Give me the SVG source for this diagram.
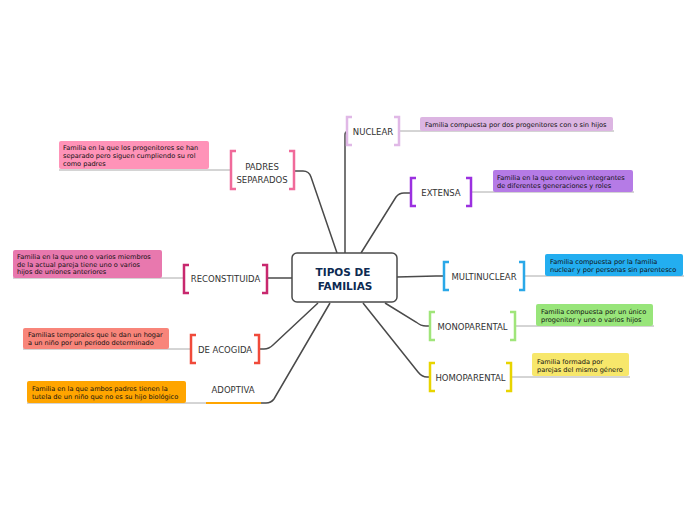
<svg xmlns="http://www.w3.org/2000/svg" width="696" height="520" viewBox="0 0 696 520">
<style>
.lbl{font-family:"DejaVu Sans",Verdana,sans-serif;font-size:8.5px;fill:#333;text-anchor:middle}
.nt{font-family:"DejaVu Sans",Verdana,sans-serif;font-size:6.6px;fill:#111}
.ctr{font-family:"DejaVu Sans",Verdana,sans-serif;font-size:10.5px;font-weight:bold;fill:#0d2a52;text-anchor:middle}
.con{fill:none;stroke:#4a4a4a;stroke-width:1.5}
.ul{fill:none;stroke:#aaaaaa;stroke-width:1}
.br{fill:none;stroke-width:2.5}
</style>
<rect width="696" height="520" fill="#ffffff"/>
<g id="connectors">
<path class="con" d="M345 253 V135 Q345 132 347 131.5"/>
<path class="con" d="M361 253 L396 197 Q399 193 404 193 H411"/>
<path class="con" d="M397 277 L436 276 H444"/>
<path class="con" d="M385 303 L416 322 Q421 326 426 326 H430"/>
<path class="con" d="M363 303 L418 372 Q422 377 427 377 H430"/>
<path class="con" d="M337 253 L311 177 Q309 171 303 171 H295"/>
<path class="con" d="M292 278 H267"/>
<path class="con" d="M318 303 L273 345 Q269 349 264 349 H259"/>
<path class="con" d="M330 303 L274 399 Q271 403 266 403 H261"/>
</g>
<g id="center">
<rect x="292" y="253" width="105" height="49" rx="5" fill="#ffffff" stroke="#4a4a4a" stroke-width="1.5"/>
<text class="ctr" x="343" y="276">TIPOS DE</text>
<text class="ctr" x="345" y="290">FAMILIAS</text>
</g>
<g id="nuclear">
<path class="ul" d="M399 131 H614"/>
<path class="br" stroke="#e0b8e6" d="M352 117 H347 V145 H352 M394 117 H399 V145 H394"/>
<text class="lbl" x="373" y="135">NUCLEAR</text>
<rect x="420" y="117" width="193" height="14" rx="2" fill="#dcb5e2"/>
<text class="nt" x="425" y="126.5">Familia compuesta por dos progenitores con o sin hijos</text>
</g>
<g id="extensa">
<path class="ul" d="M471 192 H634"/>
<path class="br" stroke="#9b30e0" d="M416 178 H411 V206 H416 M466 178 H471 V206 H466"/>
<text class="lbl" x="441" y="196">EXTENSA</text>
<rect x="493" y="170" width="140" height="22" rx="2" fill="#b57be6"/>
<text class="nt" x="497" y="179.5">Familia en la que conviven integrantes</text>
<text class="nt" x="497" y="187.5">de diferentes generaciones y roles</text>
</g>
<g id="multinuclear">
<path class="ul" d="M524 276 H684"/>
<path class="br" stroke="#2aa8e8" d="M449 262 H444 V290 H449 M519 262 H524 V290 H519"/>
<text class="lbl" x="484" y="280">MULTINUCLEAR</text>
<rect x="545" y="254" width="138" height="22" rx="2" fill="#23aef0"/>
<text class="nt" x="550" y="263.5">Familia compuesta por la familia</text>
<text class="nt" x="550" y="271.5">nuclear y por personas sin parentesco</text>
</g>
<g id="monoparental">
<path class="ul" d="M515 326 H654"/>
<path class="br" stroke="#a0e57a" d="M435 312 H430 V340 H435 M510 312 H515 V340 H510"/>
<text class="lbl" x="472.5" y="330">MONOPARENTAL</text>
<rect x="536" y="304" width="117" height="22" rx="2" fill="#98e57a"/>
<text class="nt" x="541" y="314">Familia compuesta por un único</text>
<text class="nt" x="541" y="322">progenitor y uno o varios hijos</text>
</g>
<g id="homoparental">
<path class="ul" d="M511 377 H630"/>
<path class="br" stroke="#e8d400" d="M435 363 H430 V391 H435 M506 363 H511 V391 H506"/>
<text class="lbl" x="470.5" y="381">HOMOPARENTAL</text>
<rect x="532" y="353" width="97" height="23" rx="2" fill="#f7e76b"/>
<text class="nt" x="537" y="363.5">Familia formada por</text>
<text class="nt" x="537" y="371.5">parejas del mismo género</text>
</g>
<g id="padres-separados">
<path class="ul" d="M59 170 H231"/>
<path class="br" stroke="#f06a9a" d="M236 151 H231 V189 H236 M289 151 H294 V189 H289"/>
<text class="lbl" x="262" y="170">PADRES</text>
<text class="lbl" x="262" y="183">SEPARADOS</text>
<rect x="59" y="141" width="150" height="28" rx="2" fill="#ff93b8"/>
<text class="nt" x="63" y="150">Familia en la que los progenitores se han</text>
<text class="nt" x="63" y="158">separado pero siguen cumpliendo su rol</text>
<text class="nt" x="63" y="166">como padres</text>
</g>
<g id="reconstituida">
<path class="ul" d="M13 278 H184"/>
<path class="br" stroke="#c8286e" d="M189 265 H184 V293 H189 M262 265 H267 V293 H262"/>
<text class="lbl" x="225.5" y="282">RECONSTITUIDA</text>
<rect x="13" y="250" width="149" height="28" rx="2" fill="#e878ae"/>
<text class="nt" x="17" y="259">Familia en la que uno o varios miembros</text>
<text class="nt" x="17" y="266.5">de la actual pareja tiene uno o varios</text>
<text class="nt" x="17" y="274">hijos de uniones anteriores</text>
</g>
<g id="de-acogida">
<path class="ul" d="M23 349 H191"/>
<path class="br" stroke="#f04a3a" d="M196 335 H191 V363 H196 M254 335 H259 V363 H254"/>
<text class="lbl" x="225" y="353">DE ACOGIDA</text>
<rect x="23" y="328" width="146" height="21" rx="2" fill="#f8857a"/>
<text class="nt" x="28" y="337">Familias temporales que le dan un hogar</text>
<text class="nt" x="28" y="344.5">a un niño por un periodo determinado</text>
</g>
<g id="adoptiva">
<path class="ul" d="M27 403 H206"/>
<path fill="none" stroke="#ffa500" stroke-width="2" d="M206 403 H261"/>
<text class="lbl" x="233" y="393">ADOPTIVA</text>
<rect x="27" y="381" width="159" height="22" rx="2" fill="#ffa500"/>
<text class="nt" x="32" y="391">Familia en la que ambos padres tienen la</text>
<text class="nt" x="32" y="398.5">tutela de un niño que no es su hijo biológico</text>
</g>
</svg>
